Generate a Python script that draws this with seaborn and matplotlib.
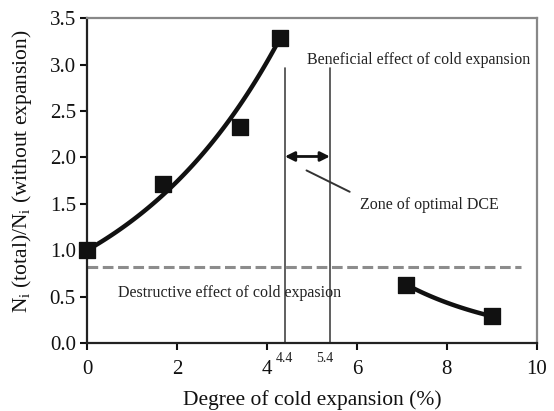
import numpy as np
import pandas as pd
import matplotlib
matplotlib.use("Agg")
import matplotlib.pyplot as plt
import seaborn as sns

# Data
x_beneficial = [0.0, 1.7, 3.4, 4.3]
y_beneficial = [1.0, 1.71, 2.33, 3.29]
x_destructive = [7.1, 9.0]
y_destructive = [0.63, 0.29]
threshold = 0.82
dce_bounds = [4.4, 5.4]
xticks = [0, 2, 4, 6, 8, 10]
yticks = [0.0, 0.5, 1.0, 1.5, 2.0, 2.5, 3.0, 3.5]

sns.set_theme(style="ticks")
plt.rcParams['font.family'] = ['Liberation Serif', 'DejaVu Serif']
plt.rcParams['mathtext.fontset'] = 'custom'
plt.rcParams['mathtext.rm'] = 'Liberation Serif'
plt.rcParams['mathtext.it'] = 'Liberation Serif:italic'

fig = plt.figure(figsize=(5.54, 4.11), dpi=100)
ax = fig.add_axes([0.157, 0.165, 0.812, 0.791])

# Exponential trend curves anchored at the end points of each group
xs1 = np.linspace(x_beneficial[0], x_beneficial[-1], 100)
k1 = np.log(y_beneficial[-1] / y_beneficial[0]) / (x_beneficial[-1] - x_beneficial[0])
ys1 = y_beneficial[0] * np.exp(k1 * (xs1 - x_beneficial[0]))
xs2 = np.linspace(x_destructive[0], x_destructive[-1], 50)
k2 = np.log(y_destructive[-1] / y_destructive[0]) / (x_destructive[-1] - x_destructive[0])
ys2 = y_destructive[0] * np.exp(k2 * (xs2 - x_destructive[0]))

sns.lineplot(x=xs1, y=ys1, ax=ax, color='#111111', lw=3.2, sort=False)
sns.lineplot(x=xs2, y=ys2, ax=ax, color='#111111', lw=3.2, sort=False)

df = pd.DataFrame({'x': x_beneficial + x_destructive, 'y': y_beneficial + y_destructive})
sns.scatterplot(data=df, x='x', y='y', ax=ax, marker='s', s=140, color='#111111',
                edgecolor='#111111', zorder=5, clip_on=False)

# Threshold dashed line
ax.plot([0, 9.65], [threshold, threshold], ls=(0, (3.5, 1.5)), color='#8c8c8c', lw=2.2, zorder=1)

# Vertical lines for optimal DCE zone
for xv in dce_bounds:
    ax.plot([xv, xv], [0, 2.96], color='#444444', lw=1.2, zorder=2)

# Double arrow
ax.annotate('', xy=(dce_bounds[0], 2.01), xytext=(dce_bounds[1], 2.01),
            arrowprops=dict(arrowstyle='<|-|>', color='#111111', lw=2.0,
                            mutation_scale=14, shrinkA=0, shrinkB=0))
ax.plot([4.88, 5.84], [1.86, 1.63], color='#333333', lw=1.4)

ax.text(6.08, 1.49, 'Zone of optimal DCE', ha='left', va='center', fontsize=11.5, color='#222222')
ax.text(4.88, 3.05, 'Beneficial effect of cold expansion', ha='left', va='center', fontsize=11.5, color='#222222')
ax.text(0.69, 0.54, 'Destructive effect of cold expasion', ha='left', va='center', fontsize=11.5, color='#222222')

# Small 4.4 / 5.4 labels
ax.text(dce_bounds[0], -0.09, f'{dce_bounds[0]}', ha='center', va='top', fontsize=10, color='#222222')
ax.text(dce_bounds[1] - 0.12, -0.09, f'{dce_bounds[1]}', ha='center', va='top', fontsize=10, color='#222222')

ax.set_xlim(0, 10)
ax.set_ylim(0, 3.5)
ax.set_xticks(xticks)
ax.set_yticks(yticks)
ax.set_yticklabels([f'{v:.1f}' for v in yticks])
ax.tick_params(axis='both', labelsize=15, length=5, width=1.5, direction='out', colors='#111111')
ax.tick_params(axis='x', pad=7)
ax.tick_params(axis='y', pad=3)

ax.set_xlabel('Degree of cold expansion (%)', fontsize=15.5, labelpad=8, color='#111111')
ax.set_ylabel(r'N$_\mathrm{i}$ (total)/N$_\mathrm{i}$ (without expansion)', fontsize=15.5, color='#111111')
ax.yaxis.set_label_coords(-0.118, 0.53)

for s in ['left', 'bottom']:
    ax.spines[s].set_color('#222222')
    ax.spines[s].set_linewidth(1.6)
for s in ['top', 'right']:
    ax.spines[s].set_color('#888888')
    ax.spines[s].set_linewidth(1.6)

fig.savefig('out.png', dpi=100)
